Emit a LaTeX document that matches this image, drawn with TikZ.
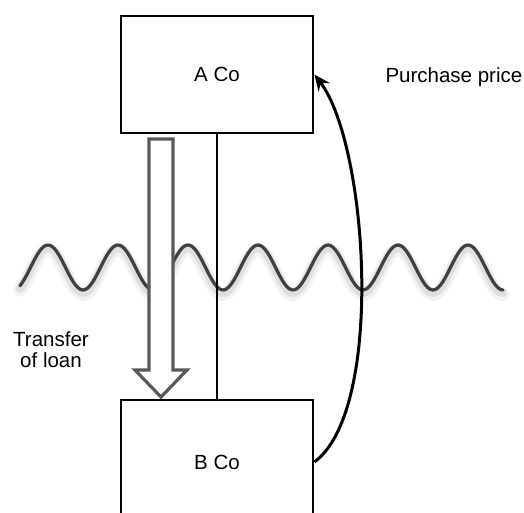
\documentclass[tikz,border=0pt]{standalone}
\usepackage{fontspec}
\setmainfont{Liberation Sans}
\usetikzlibrary{arrows.meta,positioning,calc}

\begin{document}
\begin{tikzpicture}[x=1pt,y=-1pt,
    company/.style={draw, line width=2.8pt, minimum width=192pt, font=\fontsize{20.5}{24}\selectfont},
    note/.style={font=\fontsize{20.5}{21}\selectfont, align=center}]
    \clip (0,0) rectangle (524,513);

    % Shadow under the border line, then the wave itself
    \draw[gray!10, line width=13pt, line cap=round] plot[domain=20:503, samples=200] (\x, {272 + 22.5*cos((\x-13)/70*360)});
    \draw[gray!25, line width=8pt, line cap=round] plot[domain=20:503, samples=200] (\x, {270.5 + 22.5*cos((\x-13)/70*360)});
    \draw[black!75, line width=3.2pt, line cap=round] plot[domain=20:503, samples=200] (\x, {267.5 + 22.5*cos((\x-13)/70*360)});

    % The two companies
    \node[company, minimum height=117pt] (aco) at (217, 74.5) {A Co};
    \node[company, minimum height=124pt] (bco) at (217, 462) {B Co};
    \draw[line width=1.5pt] (aco.south) -- (bco.north);

    % Hollow arrow for the loan
    \draw[black!65, line width=3.2pt, fill=white, line join=miter]
        (149,139) -- (173,139) -- (173,370) -- (187,370) -- (161,397)
        -- (135,370) -- (149,370) -- cycle;
    \node[note] (loan) at (51, 350) {Transfer\\of loan};

    % Payment back up to A Co
    \draw[line width=3pt, -{Stealth[length=16pt, width=14pt]}]
        (bco.east) .. controls (385,410) and (368,145) .. (aco.east);
    \node[note, anchor=base west] (price) at (382, 83) {Purchase price};
\end{tikzpicture}
\end{document}
